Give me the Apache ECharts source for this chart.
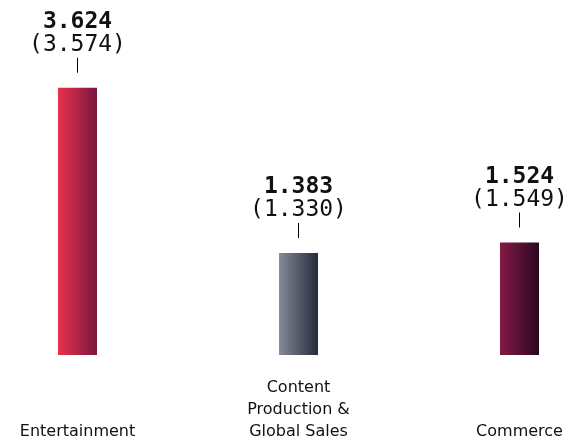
<!DOCTYPE html>
<html><head><meta charset="utf-8">
<script src="https://cdn.jsdelivr.net/npm/echarts@6/dist/echarts.min.js"></script>
<style>html,body{margin:0;padding:0;background:#fff}#c{width:577px;height:443px}</style>
</head><body><div id="c"></div>
<script>
const categories = ['Entertainment', 'Content\nProduction &\nGlobal Sales', 'Commerce'];
const currentValues = [3.624, 1.383, 1.524];
const priorValues = [3.574, 1.330, 1.549];
const gradients = [
  ['#e8334a', '#7a1640'],
  ['#868a98', '#262b39'],
  ['#831a46', '#2c0720']
];
const fmt = v => v.toFixed(3);
const chart = echarts.init(document.getElementById('c'), null, {renderer: 'canvas'});
chart.setOption({
  animation: false,
  grid: {left: 77.5, right: 57.5, top: 60, bottom: 84},
  xAxis: {
    type: 'category', data: categories, boundaryGap: false,
    axisLine: {show: false}, axisTick: {show: false},
    axisLabel: {
      interval: 0, margin: 88, verticalAlign: 'bottom', align: 'center',
      fontFamily: 'DejaVu Sans', fontSize: 16, color: '#111', lineHeight: 22
    }
  },
  yAxis: {type: 'value', min: 0, max: 4, show: false, splitLine: {show: false}},
  series: [{
    type: 'bar', barWidth: 39,
    data: currentValues.map((v, i) => ({
      value: v,
      itemStyle: {color: new echarts.graphic.LinearGradient(0, 0, 1, 0, [
        {offset: 0, color: gradients[i][0]}, {offset: 1, color: gradients[i][1]}])}
    })),
    label: {
      show: true, position: 'top', distance: 15,
      formatter: p => '{a|' + fmt(currentValues[p.dataIndex]) + '}\n{b|(' + fmt(priorValues[p.dataIndex]) + ')}\n{t|}',
      rich: {
        a: {fontFamily: 'DejaVu Sans Mono', fontWeight: 'bold', fontSize: 23, color: '#111', lineHeight: 20},
        b: {fontFamily: 'DejaVu Sans Mono', fontSize: 23, color: '#111', lineHeight: 26},
        t: {width: 1, height: 15, backgroundColor: '#000', lineHeight: 15, align: 'center'}
      }
    }
  }]
});
</script></body></html>
